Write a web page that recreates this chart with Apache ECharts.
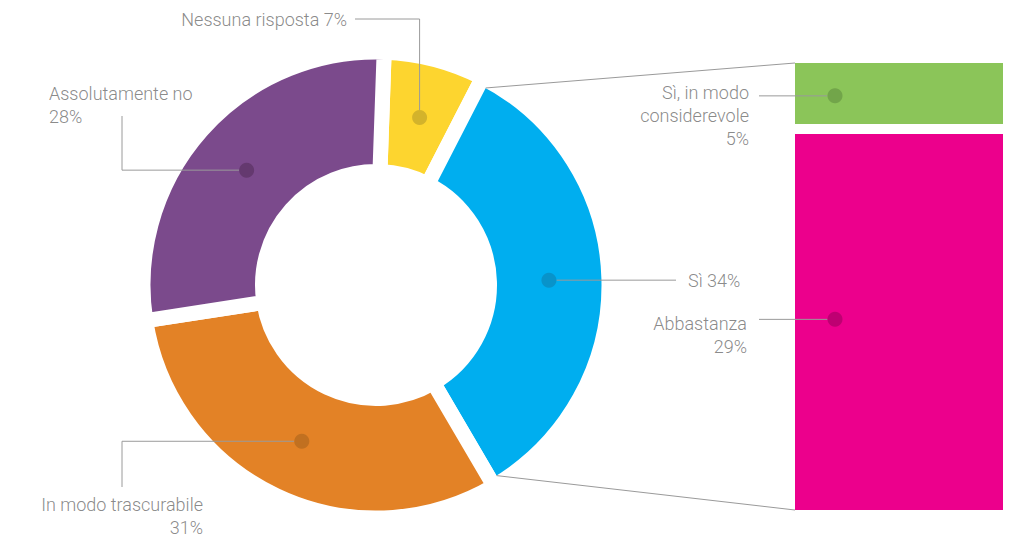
<!DOCTYPE html>
<html>
<head>
<meta charset="utf-8">
<script src="https://cdn.jsdelivr.net/npm/echarts@6/dist/echarts.min.js"></script>
<style>
  html, body { margin: 0; padding: 0; background: #fff; }
  #chart { width: 1016px; height: 541px; }
</style>
</head>
<body>
<div id="chart"></div>
<script>
// Ring: all answers
const ringNames = ['Nessuna risposta', 'Sì', 'In modo trascurabile', 'Assolutamente no'];
const ringValues = [7, 34, 31, 28];
const ringColors = ['#fdd52f', '#00aeef', '#e38226', '#7b4a8c'];
const ringDotColors = ['#c8aa2b', '#0a8cc1', '#b86b1f', '#5f3568'];
const ringLabelBreaks = [' ', ' ', '\n', '\n'];

// Bar: how the "Sì" answers split (top to bottom)
const barNames = ['Sì, in modo\nconsiderevole', 'Abbastanza'];
const barValues = [5, 29];
const barColors = ['#8bc559', '#ec008c'];
const barDotColors = ['#6b9c46', '#b3006b'];

const FONT = "Roboto, 'Liberation Sans', Arial, sans-serif";
const TEXT = '#6b6b6b';
const LINE = '#9a9a9a';

// Ring geometry
const CX = 376, CY = 285;
const GAP = 15;                  // white seam between segments
const R_OUT = 225.5, R_IN = 121; // visible radii
const START = 88;
const DOT_R = 173;
const DOT_SIZE = 15;

// Bar geometry
const BAR_LEFT = 795, BAR_RIGHT = 13, BAR_TOP = 63, BAR_BOTTOM = 31;
const BAR_DOT_X = 40;            // dot distance from the bar's left edge

const ringTotal = ringValues.reduce((a, b) => a + b, 0);
const barTotal = barValues.reduce((a, b) => a + b, 0);
const ringCum = ringValues.map((v, i) => ringValues.slice(0, i).reduce((a, b) => a + b, 0));
const barBelow = barValues.map((v, i) => barValues.slice(i + 1).reduce((a, b) => a + b, 0));

// Guide line starts on the rim of the dot, heading to the next bend
function fromRim(d, next) {
  const dx = next[0] - d[0], dy = next[1] - d[1];
  const len = Math.hypot(dx, dy) || 1;
  const k = DOT_SIZE / 2 / len;
  return [d[0] + dx * k, d[1] + dy * k];
}
function rectCenter(r) {
  return [r.x + r.width / 2, r.y + r.height / 2];
}

// Label anchors and elbow bends for the ring (d = dot centre)
const ringLabelPlacers = [
  d => ({ x: 347, y: 19, align: 'right', verticalAlign: 'middle',
          pts: [[d[0], 19], [355, 19]] }),
  d => ({ x: 688, y: d[1], align: 'left', verticalAlign: 'middle',
          pts: [[676, d[1]], [676, d[1]]] }),
  d => ({ x: 203, y: 492.5, align: 'right', verticalAlign: 'top',
          pts: [[122, d[1]], [122, 487]] }),
  d => ({ x: 49, y: 81.5, align: 'left', verticalAlign: 'top',
          pts: [[122, d[1]], [122, 116]] })
];

// Label anchors for the bar pieces
const barLabelPlacers = [
  d => ({ x: 749, y: 80.5, align: 'right', verticalAlign: 'top',
          pts: [[759, d[1]], [759, d[1]]] }),
  d => ({ x: 747, y: 311.5, align: 'right', verticalAlign: 'top',
          pts: [[759, d[1]], [759, d[1]]] })
];

function placeLabel(placer, rect) {
  const p = placer(rectCenter(rect));
  return { x: p.x, y: p.y, align: p.align, verticalAlign: p.verticalAlign };
}

const labelStyle = {
  color: TEXT, fontSize: 18, lineHeight: 23, fontFamily: FONT, fontWeight: 300
};

const chart = echarts.init(document.getElementById('chart'), null, { renderer: 'svg' });

const series = [];

series.push({
  type: 'pie',
  center: [CX, CY],
  radius: [R_IN - GAP / 2, R_OUT + GAP / 2],
  startAngle: START,
  clockwise: true,
  silent: true,
  emphasis: { disabled: true },
  itemStyle: { borderColor: '#ffffff', borderWidth: GAP },
  label: { show: false },
  labelLine: { show: false },
  data: ringNames.map((n, i) => ({ name: n, value: ringValues[i], itemStyle: { color: ringColors[i] } }))
});

// Dots on the ring (polar system laid over the ring), carrying the labels
const RING_DOTS = series.length;
series.push({
  type: 'scatter',
  coordinateSystem: 'polar',
  silent: true,
  z: 6,
  symbolSize: DOT_SIZE,
  data: ringValues.map((v, i) => ({
    name: ringNames[i],
    value: [DOT_R, ringCum[i] + v / 2],
    itemStyle: { color: ringDotColors[i] }
  })),
  label: Object.assign({
    show: true,
    formatter: p => ringNames[p.dataIndex] + ringLabelBreaks[p.dataIndex] + ringValues[p.dataIndex] + '%'
  }, labelStyle),
  labelLayout: p => placeLabel(ringLabelPlacers[p.dataIndex], p.rect)
});

// Stacked bar, bottom piece first
const boundary = barTotal - barValues[0];
for (let i = barValues.length - 1; i >= 0; i--) {
  const s = {
    type: 'bar',
    stack: 'si',
    barWidth: '100%',
    silent: true,
    emphasis: { disabled: true },
    data: [barValues[i]],
    itemStyle: { color: barColors[i] }
  };
  if (i === 0) {
    s.markLine = {
      silent: true,
      symbol: 'none',
      label: { show: false },
      lineStyle: { color: '#ffffff', width: 10, type: 'solid' },
      data: [{ yAxis: boundary }]
    };
  }
  series.push(s);
}

// Dots on the bar pieces, carrying the labels
const barW = 1016 - BAR_LEFT - BAR_RIGHT;
const BAR_DOT_OFFSET = BAR_DOT_X - barW / 2;
const BAR_DOTS = series.length;
series.push({
  type: 'scatter',
  silent: true,
  z: 6,
  symbolSize: DOT_SIZE,
  symbolOffset: [BAR_DOT_OFFSET, 0],
  data: barValues.map((v, i) => ({
    name: barNames[i], value: [0, barBelow[i] + v / 2], itemStyle: { color: barDotColors[i] }
  })),
  label: Object.assign({
    show: true,
    formatter: p => barNames[p.dataIndex] + '\n' + barValues[p.dataIndex] + '%'
  }, labelStyle),
  labelLayout: p => placeLabel(barLabelPlacers[p.dataIndex], p.rect)
});

chart.setOption({
  animation: false,
  backgroundColor: '#ffffff',
  polar: { center: [CX, CY], radius: R_OUT + GAP / 2 },
  angleAxis: { type: 'value', min: 0, max: ringTotal, startAngle: START, clockwise: true, show: false },
  radiusAxis: { type: 'value', min: 0, max: R_OUT + GAP / 2, show: false },
  grid: { left: BAR_LEFT, right: BAR_RIGHT, top: BAR_TOP, bottom: BAR_BOTTOM },
  xAxis: { type: 'category', data: ['Sì'], show: false },
  yAxis: { type: 'value', min: 0, max: barTotal, show: false },
  series: series
});

// Guide lines from each dot to its label
const guides = [];
function addGuide(d, placer) {
  const p = placer(d);
  guides.push({
    type: 'polyline', silent: true, z: 5,
    shape: { points: [fromRim(d, p.pts[0]), p.pts[0], p.pts[1]] },
    style: { stroke: LINE, lineWidth: 1, fill: null }
  });
}
ringValues.forEach((v, i) => {
  const d = chart.convertToPixel({ seriesIndex: RING_DOTS }, [DOT_R, ringCum[i] + v / 2]);
  addGuide(d, ringLabelPlacers[i]);
});
barValues.forEach((v, i) => {
  const d = chart.convertToPixel({ seriesIndex: BAR_DOTS }, [0, barBelow[i] + v / 2]);
  addGuide([d[0] + BAR_DOT_OFFSET, d[1]], barLabelPlacers[i]);
});

// Connector lines from the outer corners of the "Sì" segment to the bar
const si = 1;
const h = GAP / 2;
const rp = Math.sqrt(R_OUT * R_OUT - h * h);
function corner(value, side) {
  const a = (START - value / ringTotal * 360) * Math.PI / 180;
  const u = [Math.cos(a), -Math.sin(a)];
  const n = [Math.sin(a) * side, Math.cos(a) * side];
  return [CX + rp * u[0] + h * n[0], CY + rp * u[1] + h * n[1]];
}
const c1 = corner(ringCum[si], 1);
const c2 = corner(ringCum[si] + ringValues[si], -1);
const barTopY = chart.convertToPixel({ yAxisIndex: 0 }, barTotal);
const barBottomY = chart.convertToPixel({ yAxisIndex: 0 }, 0);

guides.push(
  { type: 'line', silent: true, z: 5,
    shape: { x1: c1[0], y1: c1[1], x2: BAR_LEFT, y2: barTopY },
    style: { stroke: LINE, lineWidth: 1 } },
  { type: 'line', silent: true, z: 5,
    shape: { x1: c2[0], y1: c2[1], x2: BAR_LEFT, y2: barBottomY },
    style: { stroke: LINE, lineWidth: 1 } }
);

chart.setOption({ graphic: guides });
</script>
</body>
</html>
